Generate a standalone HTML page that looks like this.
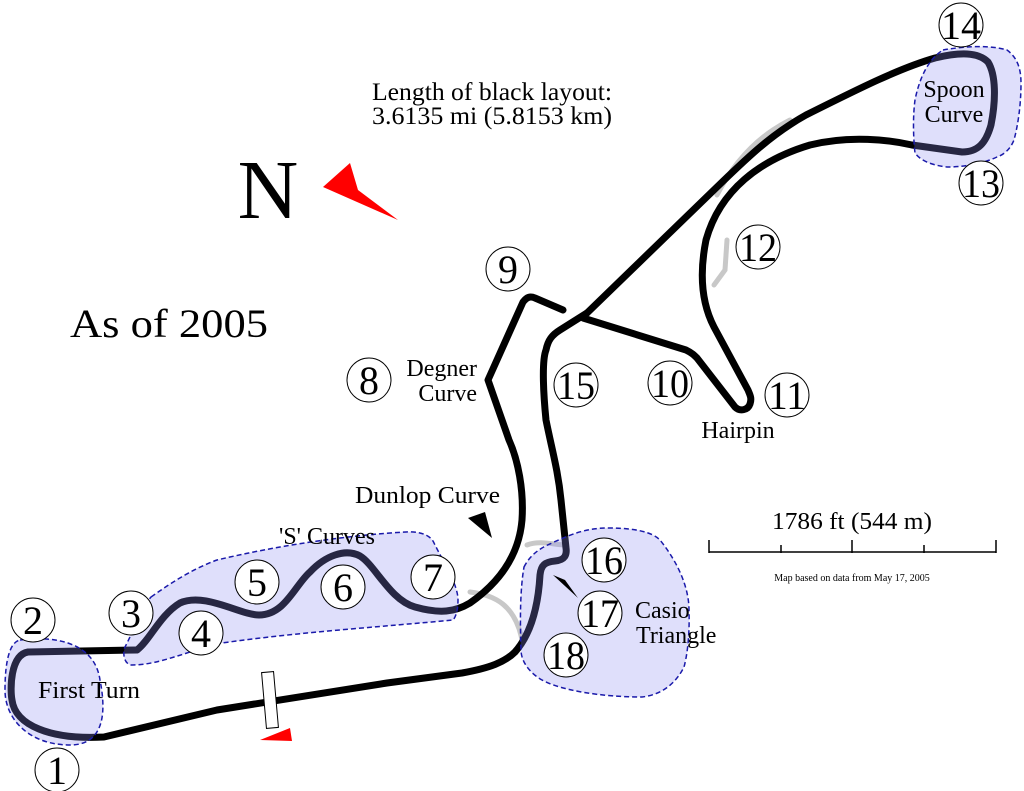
<!DOCTYPE html>
<html><head><meta charset="utf-8"><style>
html,body{margin:0;padding:0;background:#fff}
svg{display:block}
text{font-family:"Liberation Serif",serif;fill:#000}
</style></head><body>
<svg width="1024" height="791" viewBox="0 0 1024 791">
<g fill="none" stroke="#c8c8c8" stroke-width="5" stroke-linecap="round">
<path d="M717,195 C735,160 760,135 790,120"/>
<path d="M714,285 L725,270 L727,240"/>
<path d="M527,545 C540,540 555,545 566,545"/>
<path d="M470,592 C495,595 515,605 522,640"/>
</g>
<g fill="none" stroke="#000" stroke-width="7" stroke-linejoin="round" stroke-linecap="round">
<path d="M137,650 L28,652 C10,655 10,690 12,700 C15,725 50,740 104,737 L217,710 L387,683 L462,673 C490,668 505,662 515,652 C530,635 538,610 540,575 C541,565 545,562 555,561 C565,560 567,555 566,548 L561,500 C558,470 552,450 546,420 C543,390 542,360 546,350 C548,340 552,335 560,330 L587,313"/>
<path d="M137,650 C150,640 160,615 180,603 C205,592 240,615 259,615 C285,615 295,585 310,572 C325,556 345,548 360,556 C375,565 390,600 415,607 C440,614 455,612 470,603 C500,582 519,555 522,520 C524,490 518,460 509,440 L488,380 L523,302 C527,297 530,296 535,298 L563,310"/>
<path d="M583,318 L686,350 C692,353 694,355 697,358 L735,407 C740,412 748,410 750,404 C752,398 750,395 748,390 L714,327 C700,300 700,270 706,240 C720,190 760,160 810,145 C850,135 890,140 912,145 L962,152 C978,152 986,143 991,125 C996,100 996,75 988,62 C978,52 960,52 935,58 C900,68 860,88 806,115 C770,135 745,160 717,187 L587,313"/>
</g>
<g fill="rgba(140,140,240,0.28)" stroke="#1a1aaa" stroke-width="1.5" stroke-dasharray="5,3">
<path d="M20,640 C60,635 95,645 100,680 C108,720 100,745 70,745 C30,745 5,720 5,690 C5,660 10,642 20,640 Z"/>
<path d="M151,597 C175,580 195,568 217,560 C280,545 350,535 406,532 C425,531 432,538 434,543 C445,565 458,585 458,600 C458,612 455,618 453,620 C380,627 300,632 222,643 C190,650 160,665 132,665 C125,665 122,655 125,647 C135,628 140,610 151,597 Z"/>
<path d="M524,567 C530,555 540,548 552,543 C575,532 590,528 608,528 C635,528 652,532 660,540 C680,565 689,590 689,610 C690,640 686,660 684,667 C675,685 660,695 642,697 C600,697 560,690 542,680 C528,672 521,660 521,650 C520,620 520,590 524,567 Z"/>
<path d="M943,50 C965,46 990,45 1007,50 C1018,58 1021,70 1021,83 C1021,105 1018,125 1014,140 C1010,150 1003,155 997,157 C980,165 960,167 947,167 C930,165 920,160 915,153 C913,135 913,115 915,100 C920,75 930,58 943,50 Z"/>
</g>
<rect x="264" y="672" width="12" height="56" fill="#fff" stroke="#000" stroke-width="1" transform="rotate(-5 270 700)"/>
<polygon points="260,740 292,741 290,728" fill="#f00"/>
<polygon points="468,518 485,512 492,538" fill="#000"/>
<polygon points="553,575 565,580 578,598" fill="#000"/>
<polygon points="323,187 398,220 358,190 350,163" fill="#f00"/>
<text x="268" y="218" font-size="84" text-anchor="middle">N</text>
<text x="70" y="337" font-size="40" textLength="198" lengthAdjust="spacingAndGlyphs">As of 2005</text>
<text x="372" y="100" font-size="25" textLength="240" lengthAdjust="spacingAndGlyphs">Length of black layout:</text>
<text x="372" y="124" font-size="25" textLength="240" lengthAdjust="spacingAndGlyphs">3.6135 mi (5.8153 km)</text>
<g font-size="24">
<text x="477" y="376" text-anchor="end">Degner</text>
<text x="477" y="401" text-anchor="end">Curve</text>
<text x="738" y="438" text-anchor="middle">Hairpin</text>
<text x="355" y="503" textLength="145" lengthAdjust="spacingAndGlyphs">Dunlop Curve</text>
<text x="327" y="544" text-anchor="middle">'S' Curves</text>
<text x="38" y="698" textLength="102" lengthAdjust="spacingAndGlyphs">First Turn</text>
<text x="635" y="618">Casio</text>
<text x="636" y="643">Triangle</text>
<text x="954" y="97" text-anchor="middle">Spoon</text>
<text x="954" y="122" text-anchor="middle">Curve</text>
<text x="772" y="529" textLength="160" lengthAdjust="spacingAndGlyphs">1786 ft (544 m)</text>
</g>
<text x="852" y="581" font-size="10" text-anchor="middle">Map based on data from May 17, 2005</text>
<g stroke="#000" stroke-width="1.5">
<line x1="709" y1="552" x2="996" y2="552"/>
<line x1="709" y1="540" x2="709" y2="553"/>
<line x1="781" y1="545" x2="781" y2="553"/>
<line x1="852" y1="540" x2="852" y2="553"/>
<line x1="924" y1="545" x2="924" y2="553"/>
<line x1="996" y1="540" x2="996" y2="553"/>
</g>
<g fill="#fff" stroke="#000" stroke-width="1">
<circle cx="57" cy="770" r="22"/><circle cx="33" cy="620" r="22"/><circle cx="131" cy="613" r="22"/>
<circle cx="201" cy="633" r="22"/><circle cx="257" cy="582" r="22"/><circle cx="343" cy="587" r="22"/>
<circle cx="433" cy="577" r="22"/><circle cx="369" cy="380" r="22"/><circle cx="508" cy="269" r="22"/>
<circle cx="670" cy="383" r="22"/><circle cx="787" cy="395" r="22"/><circle cx="758" cy="247" r="22"/>
<circle cx="981" cy="183" r="22"/><circle cx="961" cy="25" r="22"/><circle cx="576" cy="385" r="22"/>
<circle cx="604" cy="560" r="22"/><circle cx="600" cy="613" r="22"/><circle cx="566" cy="655" r="22"/>
</g>
<g font-size="40" text-anchor="middle">
<text x="57" y="784">1</text><text x="33" y="634">2</text><text x="131" y="627">3</text>
<text x="201" y="647">4</text><text x="257" y="596">5</text><text x="343" y="601">6</text>
<text x="433" y="591">7</text><text x="369" y="394">8</text><text x="508" y="283">9</text>
<text x="670" y="397" textLength="38" lengthAdjust="spacingAndGlyphs">10</text>
<text x="787" y="409" textLength="38" lengthAdjust="spacingAndGlyphs">11</text>
<text x="758" y="261" textLength="38" lengthAdjust="spacingAndGlyphs">12</text>
<text x="981" y="197" textLength="38" lengthAdjust="spacingAndGlyphs">13</text>
<text x="961" y="39" textLength="40" lengthAdjust="spacingAndGlyphs">14</text>
<text x="576" y="399" textLength="38" lengthAdjust="spacingAndGlyphs">15</text>
<text x="604" y="574" textLength="38" lengthAdjust="spacingAndGlyphs">16</text>
<text x="600" y="627" textLength="38" lengthAdjust="spacingAndGlyphs">17</text>
<text x="566" y="669" textLength="38" lengthAdjust="spacingAndGlyphs">18</text>
</g>
</svg>
</body></html>
